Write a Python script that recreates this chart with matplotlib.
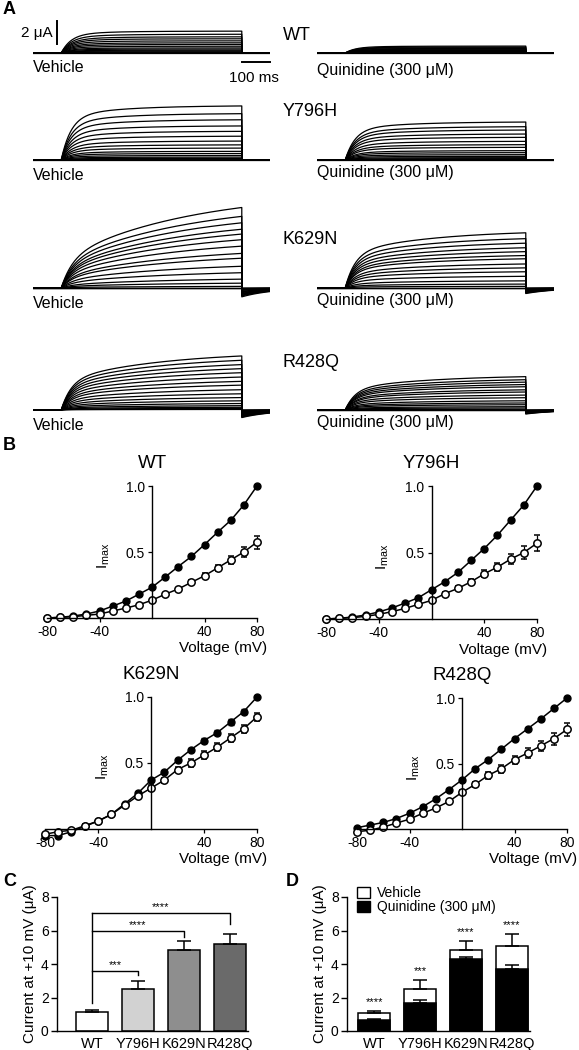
import numpy as np
import matplotlib
matplotlib.use('Agg')
import matplotlib.pyplot as plt
from matplotlib.patches import Patch

plt.rcParams['font.family'] = ['Liberation Sans', 'DejaVu Sans']
plt.rcParams['mathtext.fontset'] = 'custom'
plt.rcParams['mathtext.rm'] = 'Liberation Sans'
plt.rcParams['mathtext.it'] = 'Liberation Sans:italic'
plt.rcParams['axes.unicode_minus'] = False

W, H = 579, 1050

# ---- data ----
mutants = ['WT', 'Y796H', 'K629N', 'R428Q']
volts = [-80, -70, -60, -50, -40, -30, -20, -10, 0, 10, 20, 30, 40, 50, 60, 70, 80]

# normalised I-V (vehicle = filled, quinidine = open)
iv_veh = {
    'WT':    [0.0, 0.005, 0.015, 0.03, 0.053, 0.09, 0.128, 0.18, 0.233, 0.31, 0.39, 0.466, 0.556, 0.65, 0.74, 0.857, 1.0],
    'Y796H': [0.0, 0.005, 0.015, 0.03, 0.053, 0.083, 0.12, 0.16, 0.22, 0.28, 0.35, 0.44, 0.53, 0.63, 0.744, 0.857, 1.0],
    'K629N': [-0.05, -0.05, -0.02, 0.02, 0.06, 0.11, 0.19, 0.27, 0.37, 0.43, 0.52, 0.6, 0.67, 0.73, 0.81, 0.89, 1.0],
    'R428Q': [0.01, 0.03, 0.05, 0.08, 0.12, 0.17, 0.23, 0.30, 0.375, 0.46, 0.53, 0.61, 0.69, 0.765, 0.84, 0.92, 1.0],
}
iv_veh_err = {
    'WT':    [0] * 17,
    'Y796H': [0] * 17,
    'K629N': [0, 0, 0, 0, 0, 0, 0, 0, 0, 0, 0.01, 0.01, 0.02, 0.02, 0.02, 0.02, 0],
    'R428Q': [0] * 17,
}
iv_quin = {
    'WT':    [0.0, 0.005, 0.01, 0.02, 0.03, 0.053, 0.075, 0.1, 0.135, 0.18, 0.22, 0.27, 0.32, 0.38, 0.44, 0.5, 0.575],
    'Y796H': [0.0, 0.005, 0.01, 0.02, 0.035, 0.055, 0.08, 0.11, 0.14, 0.19, 0.23, 0.28, 0.34, 0.39, 0.45, 0.5, 0.57],
    'K629N': [-0.04, -0.02, -0.01, 0.025, 0.06, 0.11, 0.18, 0.25, 0.31, 0.37, 0.45, 0.5, 0.56, 0.62, 0.69, 0.76, 0.85],
    'R428Q': [-0.02, -0.01, 0.015, 0.045, 0.075, 0.12, 0.16, 0.21, 0.28, 0.34, 0.41, 0.46, 0.53, 0.58, 0.635, 0.69, 0.76],
}
iv_quin_err = {
    'WT':    [0, 0, 0, 0, 0, 0, 0, 0.005, 0.01, 0.01, 0.01, 0.015, 0.02, 0.025, 0.03, 0.04, 0.05],
    'Y796H': [0, 0, 0, 0, 0, 0, 0, 0.01, 0.01, 0.01, 0.015, 0.02, 0.025, 0.03, 0.04, 0.05, 0.06],
    'K629N': [0.01, 0.01, 0.01, 0.01, 0.01, 0.01, 0.015, 0.015, 0.02, 0.02, 0.02, 0.03, 0.03, 0.03, 0.03, 0.03, 0.03],
    'R428Q': [0, 0, 0, 0, 0.01, 0.01, 0.01, 0.015, 0.015, 0.02, 0.025, 0.03, 0.03, 0.035, 0.04, 0.045, 0.05],
}

# example trace families: current at +80 mV (uA) and kinetics
trace_amp_veh = [1.9, 4.7, 7.0, 4.7]
trace_amp_quin = [0.6, 3.3, 4.8, 2.9]
tau_fast_veh = [35, 35, 40, 35]
frac_fast_veh = [0.85, 0.8, 0.3, 0.5]
tau_slow_veh = [150, 200, 450, 350]
tau_fast_quin = [35, 35, 35, 35]
frac_fast_quin = [0.85, 0.8, 0.6, 0.6]
tau_slow_quin = [150, 200, 300, 300]
tail_veh = [0, 0, 0.11, 0.14]
tail_quin = [0, 0, 0.1, 0.12]

# bar charts (current at +10 mV, uA)
bar_labels = ['WT', 'Y796H', 'K629N', 'R428Q']
c_means = [1.15, 2.5, 4.85, 5.2]
c_err = [0.08, 0.5, 0.5, 0.6]
c_colors = ['white', '#d2d2d2', '#8e8e8e', '#6a6a6a']
sig_height = [3.6, 5.95, 7.05]
sig_drop = [3.35, 5.6, 6.4]
sig_text = ['***', '****', '****']

d_veh = [1.08, 2.52, 4.85, 5.07]
d_veh_err = [0.12, 0.5, 0.5, 0.7]
d_quin = [0.65, 1.65, 4.32, 3.7]
d_quin_err = [0.05, 0.2, 0.08, 0.25]
d_sig = ['****', '***', '****', '****']

fig = plt.figure(figsize=(W / 100, H / 100), dpi=100)


def rect(x0, y0, x1, y1):
    return [x0 / W, 1 - y1 / H, (x1 - x0) / W, (y1 - y0) / H]


def ftext(x, y, s, **kw):
    fig.text(x / W, 1 - y / H, s, **kw)


# ---- A: current traces ----
t_pre, t_step, t_post = 100, 640, 100
px_ms = 237 / 840
px_ua = 11.5
row_base = [53, 160, 288, 410]
col_left = [33, 317]


def sweep(amp, tf, ff, ts, tail):
    t1 = np.linspace(0, t_step, 300)
    g = ff * (1 - np.exp(-t1 / tf)) + (1 - ff) * (1 - np.exp(-t1 / ts))
    i1 = amp * g / g[-1]
    t2 = np.linspace(t_step, t_step + t_post, 60)
    i2 = -tail * amp * np.exp(-(t2 - t_step) / 110)
    return (np.concatenate([[-t_pre, 0], t1, t2]),
            np.concatenate([[0, 0], i1, i2]))


for r, name in enumerate(mutants):
    for c in range(2):
        x0, yb = col_left[c], row_base[r]
        ax = fig.add_axes(rect(x0, yb - 8 * px_ua, x0 + 840 * px_ms, yb + 2 * px_ua))
        ax.set_xlim(-t_pre, t_step + t_post)
        ax.set_ylim(-2, 8)
        ax.axis('off')
        if c == 0:
            rel = np.array(iv_veh[name])
            pars = (trace_amp_veh[r], tau_fast_veh[r], frac_fast_veh[r], tau_slow_veh[r], tail_veh[r])
        else:
            rel = np.array(iv_quin[name]) / iv_quin[name][-1]
            pars = (trace_amp_quin[r], tau_fast_quin[r], frac_fast_quin[r], tau_slow_quin[r], tail_quin[r])
        amp, tf, ff, ts, tl = pars
        for v in rel:
            t, i = sweep(amp * max(v, 0), tf, ff, ts, tl)
            ax.plot(t, i, color='black', lw=0.9)
        if r == 0 and c == 0:
            ax.plot([-15, -15], [0.78, 2.78], color='black', lw=1.4, clip_on=False)
            ax.text(-32, 1.78, '2 μA', ha='right', va='center', fontsize=11)
            ax.plot([t_step, t_step + t_post], [-0.8, -0.8], color='black', lw=1.4, clip_on=False)
            ax.text(684, -2.2, '100 ms', ha='center', va='center', fontsize=11)

veh_y = [67, 175, 303, 425]
quin_y = [70, 172, 301, 423]
name_y = [35, 112, 240, 363]
for r, name in enumerate(mutants):
    ftext(33, veh_y[r], 'Vehicle', va='center', fontsize=11.5)
    ftext(317, quin_y[r], 'Quinidine (300 μM)', va='center', fontsize=11.5)
    ftext(283, name_y[r], name, va='center', fontsize=13)

# ---- B: I-V curves ----
iv_rects = {'WT': (47, 486, 257, 618), 'Y796H': (326, 486, 537, 619),
            'K629N': (45, 697, 257, 829), 'R428Q': (357, 698, 567, 829)}
for name in mutants:
    ax = fig.add_axes(rect(*iv_rects[name]))
    ax.set_facecolor('none')
    ax.set_xlim(-80, 80)
    ax.set_ylim(0, 1)
    for s in ['top', 'right']:
        ax.spines[s].set_visible(False)
    ax.spines['left'].set_position(('data', 0))
    ax.spines['bottom'].set_position(('data', 0))
    ax.set_xticks([-80, -40, 40, 80])
    ax.set_yticks([0.5, 1.0])
    ax.set_yticklabels(['0.5', '1.0'])
    ax.tick_params(length=3, width=0.9, labelsize=10, pad=2)
    for s in ['left', 'bottom']:
        ax.spines[s].set_linewidth(1.0)
    c1 = ax.errorbar(volts, iv_veh[name], yerr=iv_veh_err[name], fmt='-o', color='black',
                     mfc='black', ms=5, lw=1.1, capsize=2, elinewidth=0.9)
    c2 = ax.errorbar(volts, iv_quin[name], yerr=iv_quin_err[name], fmt='-o', color='black',
                     mfc='white', mec='black', mew=1.1, ms=5.3, lw=1.1, capsize=2, elinewidth=0.9)
    for cont in (c1, c2):
        for a in cont.get_children():
            a.set_clip_on(False)
    ax.set_ylabel(r'I$_{\mathrm{max}}$', fontsize=11, labelpad=0)
    ax.yaxis.set_label_coords(0.31, 0.47)
    ax.text(1.05, -0.23, 'Voltage (mV)', transform=ax.transAxes, ha='right', va='center', fontsize=11)
    ax.text(0.5, 1.17, name, transform=ax.transAxes, ha='center', va='center', fontsize=13.5)

# ---- C: bar chart ----
x = np.arange(4)
axc = fig.add_axes(rect(57, 897, 248, 1031))
axc.bar(x, c_means, width=0.68, color=c_colors, edgecolor='black', linewidth=1.1, zorder=2)
axc.errorbar(x, c_means, yerr=[np.zeros(4), c_err], fmt='none', ecolor='black',
             elinewidth=1.1, capsize=5, capthick=1.1, zorder=3)
axc.plot([0, 0], [1.7, sig_height[-1]], color='black', lw=1)
for k in range(3):
    axc.plot([0, k + 1, k + 1], [sig_height[k], sig_height[k], sig_drop[k]], color='black', lw=1)
    axc.text((k + 1) / 2, sig_height[k] + 0.35, sig_text[k], ha='center', va='center', fontsize=8)
axc.set_xlim(-0.76, 3.39)
axc.set_ylim(0, 8)

# ---- D: stacked comparison ----
axd = fig.add_axes(rect(347, 897, 530, 1031))
axd.bar(x, d_veh, width=0.7, color='white', edgecolor='black', linewidth=1.1, zorder=2)
axd.errorbar(x, d_veh, yerr=[np.zeros(4), d_veh_err], fmt='none', ecolor='black',
             elinewidth=1.1, capsize=5, capthick=1.1, zorder=3)
axd.bar(x, d_quin, width=0.7, color='black', edgecolor='black', linewidth=1.1, zorder=4)
axd.errorbar(x, d_quin, yerr=[np.zeros(4), d_quin_err], fmt='none', ecolor='black',
             elinewidth=1.1, capsize=5, capthick=1.1, zorder=5)
for k in range(4):
    axd.text(x[k], d_veh[k] + d_veh_err[k] + 0.55, d_sig[k], ha='center', va='center', fontsize=8)
axd.set_xlim(-0.59, 3.4)
axd.set_ylim(0, 8)
axd.legend(handles=[Patch(facecolor='white', edgecolor='black', label='Vehicle'),
                    Patch(facecolor='black', edgecolor='black', label='Quinidine (300 μM)')],
           loc='upper left', bbox_to_anchor=(0.055, 1.08), frameon=False, fontsize=10,
           handlelength=0.9, handleheight=0.8, handletextpad=0.5, labelspacing=0.0,
           borderaxespad=0, borderpad=0)

for ax in (axc, axd):
    for s in ['top', 'right']:
        ax.spines[s].set_visible(False)
    for s in ['left', 'bottom']:
        ax.spines[s].set_linewidth(1.0)
    ax.set_xticks(x)
    ax.set_xticklabels(bar_labels)
    ax.set_yticks([0, 2, 4, 6, 8])
    ax.tick_params(length=4, width=1.0, labelsize=10, pad=2)
    ax.tick_params(axis='x', length=0, pad=4, labelsize=10.5)
    ax.set_ylabel('Current at +10 mV (μA)', fontsize=11, labelpad=3)

# panel letters
for s, px, py in [('A', 3, 9), ('B', 3, 445), ('C', 3, 881), ('D', 286, 881)]:
    ftext(px, py, s, fontsize=13, fontweight='bold', va='center')

fig.savefig('out.png', dpi=100)
